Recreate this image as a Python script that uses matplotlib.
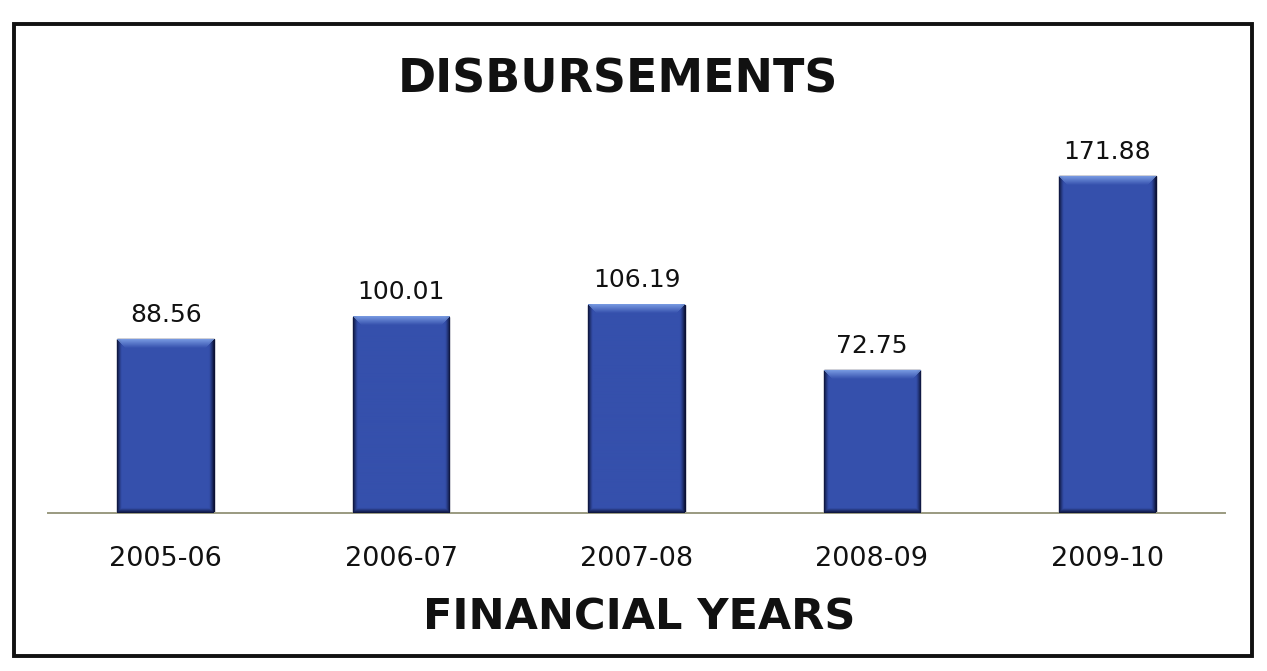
import numpy as np
import matplotlib.pyplot as plt
from matplotlib.patches import Rectangle
from matplotlib.colors import to_rgb

years = ['2005-06', '2006-07', '2007-08', '2008-09', '2009-10']
disbursements = [88.56, 100.01, 106.19, 72.75, 171.88]

plt.rcParams['font.family'] = ['DejaVu Sans']

W, H = 1267, 671
fig = plt.figure(figsize=(W / 100, H / 100), dpi=100)
ax = fig.add_axes([48 / W, 1 - 513 / H, 1177 / W, 392 / H])


def bar_shade(w_px, h_px):
    # dark sides and bottom, light bevel along the top
    base = np.array(to_rgb('#3550ac'))
    dark = np.array(to_rgb('#0b1135'))
    light = np.array(to_rgb('#8aaef0'))
    u = np.arange(w_px) + 0.5
    du = np.minimum(u, w_px - u)[None, :]
    v = (np.arange(h_px) + 0.5)[:, None]
    side = np.clip(1 - du / 5.0, 0, 1) ** 1.3
    bottom = np.clip(1 - (h_px - v) / 5.0, 0, 1)
    s = np.maximum(side, bottom)[..., None]
    img = base * (1 - s) + dark * s
    top = (np.clip(1 - v / 9.0, 0, 1) * (du > v * 0.9) * 0.8)[..., None]
    img = img * (1 - top) + light * top
    return np.clip(img, 0, 1)


x = np.arange(len(years))
bars = ax.bar(x, disbursements, width=0.41, color='#3550ac',
              edgecolor='#0b1135', linewidth=1.0, zorder=2)

ax.set_xlim(-0.5, len(years) - 0.5)
ax.set_ylim(0, 200)
fig.canvas.draw()

for b, val in zip(bars, disbursements):
    x0, x1 = b.get_x(), b.get_x() + b.get_width()
    p0 = ax.transData.transform((x0, 0))
    p1 = ax.transData.transform((x1, val))
    w_px = max(int(round(p1[0] - p0[0])), 2)
    h_px = max(int(round(p1[1] - p0[1])), 2)
    ax.imshow(bar_shade(w_px, h_px), extent=(x0, x1, 0, val), aspect='auto',
              zorder=3, clip_path=b, interpolation='bilinear')
    ax.annotate(f'{val:.2f}', (b.get_x() + b.get_width() / 2, val),
                xytext=(0, 9), textcoords='offset points',
                ha='center', va='bottom', fontsize=18, color='#111111')

ax.set_xlim(-0.5, len(years) - 0.5)
ax.set_ylim(0, 200)
ax.set_xticks(x)
ax.set_xticklabels(years, fontsize=19.5, color='#111111')
ax.tick_params(axis='x', length=0, pad=24)
ax.set_yticks([])
for side in ('left', 'right', 'top'):
    ax.spines[side].set_visible(False)
ax.spines['bottom'].set_color('#9a9a80')
ax.spines['bottom'].set_linewidth(1.4)
ax.patch.set_visible(False)

fig.text(618 / W, 1 - 80 / H, 'DISBURSEMENTS', ha='center', va='center',
         fontsize=33, fontweight='bold', color='#111111')
fig.text(639 / W, 1 - 617 / H, 'FINANCIAL YEARS', ha='center', va='center',
         fontsize=31, fontweight='bold', color='#111111')

# outer frame round the chart
fig.patches.append(Rectangle((14 / W, 1 - 656 / H), 1238 / W, 632 / H,
                             transform=fig.transFigure, fill=False,
                             edgecolor='#111111', linewidth=2.8))

fig.savefig('out.png', dpi=100)
